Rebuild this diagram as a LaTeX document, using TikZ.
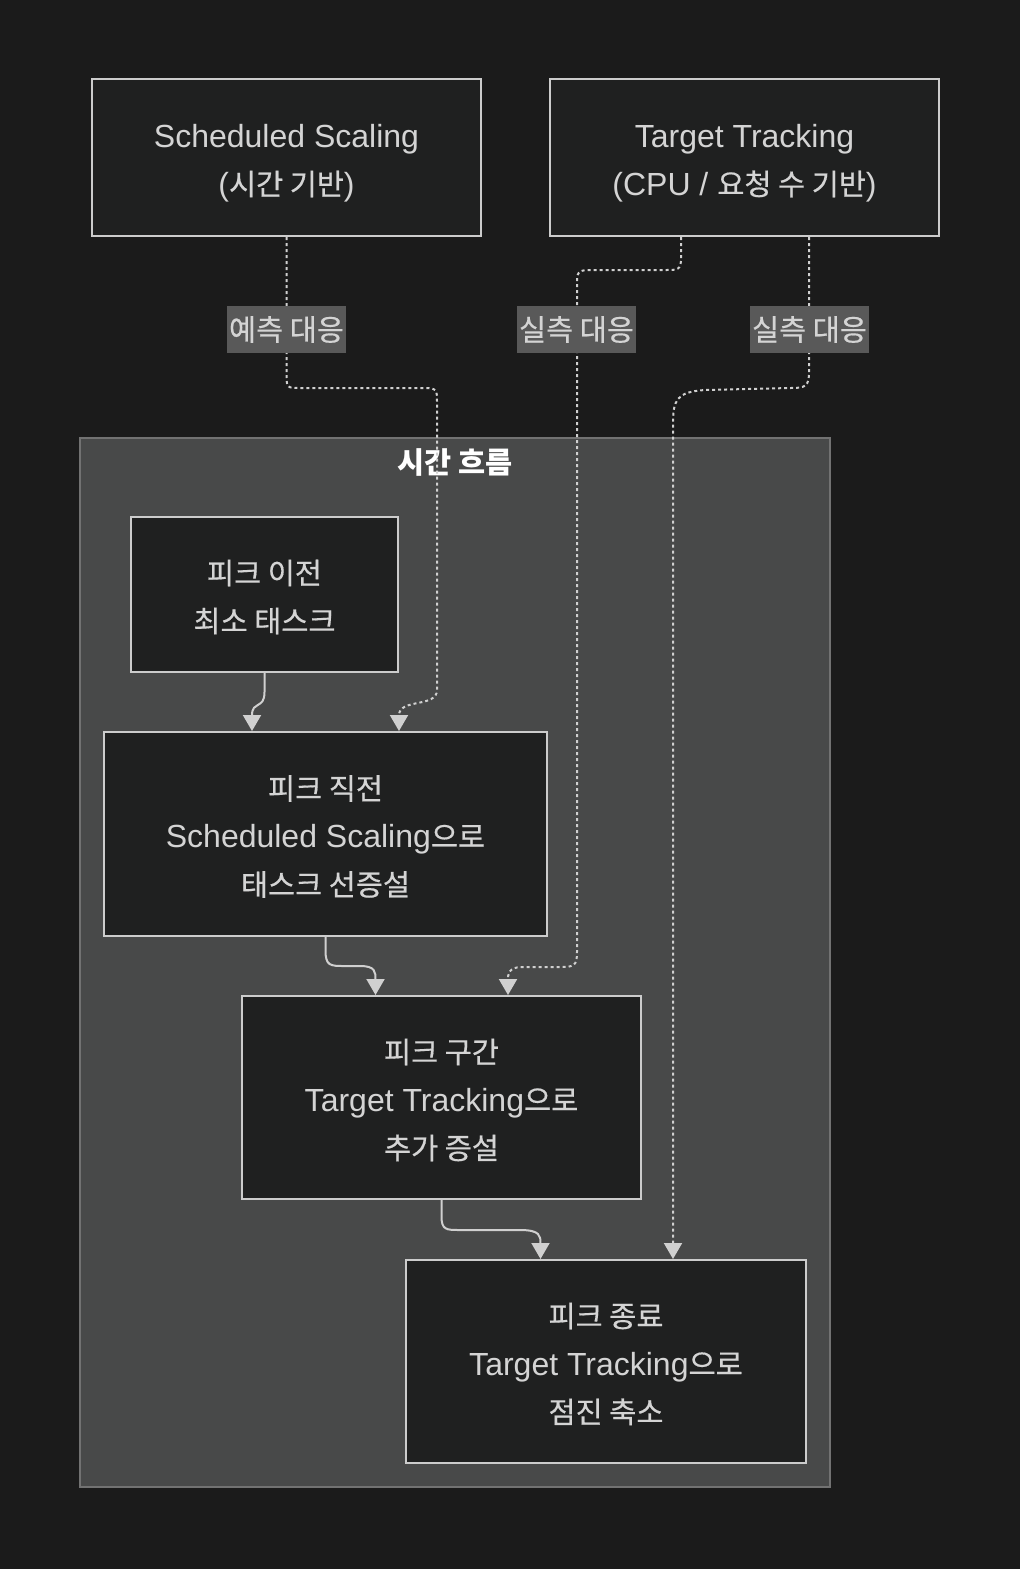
\documentclass[tikz,border=0pt]{standalone}
\usepackage{fontspec}
\setmainfont{Liberation Sans}
\newfontfamily\kr[Scale=0.92,FakeBold=0.5]{Noto Sans CJK KR}
\newfontfamily\krb[Scale=0.92]{Noto Sans CJK KR}
\usetikzlibrary{arrows.meta}
\definecolor{bgc}{HTML}{1B1B1B}
\definecolor{boxfill}{HTML}{1F2020}
\definecolor{boxline}{HTML}{CCCCCC}
\definecolor{txt}{HTML}{D4D4D4}
\definecolor{clfill}{HTML}{484949}
\definecolor{clline}{HTML}{727272}
\definecolor{lblfill}{HTML}{595959}
\definecolor{edgec}{HTML}{D0D0D0}
\newcommand\topstr{\rule{0pt}{35pt}}
\newcommand\botstr{\rule[-8pt]{0pt}{0pt}}
\begin{document}
\begin{tikzpicture}[x=1pt,y=-1pt,
  box/.style={draw=boxline, fill=boxfill, line width=2pt, align=center, text=txt,
    font=\fontsize{32}{48}\selectfont, inner sep=0pt},
  lbl/.style={fill=lblfill, text=txt, font=\fontsize{32}{48}\selectfont,
    inner xsep=0pt, inner ysep=0pt, minimum width=119pt, minimum height=47pt},
  flow/.style={draw=edgec, line width=2pt, -{Triangle[length=16pt,width=18pt]}},
  dflow/.style={flow, dash pattern=on 3pt off 3pt}]
\fill[bgc] (0,0) rectangle (1020,1569);
\useasboundingbox (0,0) rectangle (1020,1569);

% cluster
\node[draw=clline, fill=clfill, line width=1.5pt, minimum width=750pt, minimum height=1049pt, inner sep=0pt] (G) at (455,962.5) {};
\node[text=white, font=\fontsize{32}{48}\selectfont] (T) at (455,462) {\krb\bfseries 시간 흐름};

% nodes
\node[box, minimum width=389pt, minimum height=157pt] (A) at (286.5,157.5) {\topstr Scheduled Scaling\\({\kr 시간 기반})\botstr};
\node[box, minimum width=389pt, minimum height=157pt] (B) at (744.5,157.5) {\topstr Target Tracking\\(CPU / {\kr 요청 수 기반})\botstr};
\node[box, minimum width=267pt, minimum height=155pt] (C) at (264.5,594.5) {\topstr{\kr 피크 이전}\\{\kr 최소 태스크}\botstr};
\node[box, minimum width=443pt, minimum height=204pt] (D) at (325.5,834) {\topstr{\kr 피크 직전}\\Scheduled Scaling{\kr 으로}\\{\kr 태스크 선증설}\botstr};
\node[box, minimum width=399pt, minimum height=203pt] (E) at (441.5,1097.5) {\topstr{\kr 피크 구간}\\Target Tracking{\kr 으로}\\{\kr 추가 증설}\botstr};
\node[box, minimum width=400pt, minimum height=203pt] (F) at (606,1361.5) {\topstr{\kr 피크 종료}\\Target Tracking{\kr 으로}\\{\kr 점진 축소}\botstr};

% edges
\draw[dflow] (A.south) -- (286.5,376) .. controls (286.5,388) and (288,388) .. (300,388) -- (424,388) .. controls (437,388) and (437,390) .. (437,402) -- (437,690) .. controls (437,708) and (399,698) .. ([xshift=73.5pt]D.north);
\draw[flow] (C.south) -- (264.5,692) .. controls (264.5,710) and (252,700) .. ([xshift=-73.5pt]D.north);
\draw[flow] (D.south) -- (325.5,950) .. controls (325.5,966) and (330,966) .. (345,966) -- (360,966) .. controls (375.5,966) and (375.5,972) .. ([xshift=-66pt]E.north);
\draw[dflow] ([xshift=-63.5pt]B.south) -- (681,258) .. controls (681,270) and (678,270) .. (666,270) -- (590,270) .. controls (577,270) and (577,273) .. (577,285) -- (577,952) .. controls (577,966) and (574,967) .. (560,967) -- (522,967) .. controls (508,967) and (508,975) .. ([xshift=66.5pt]E.north);
\draw[flow] (E.south) -- (441.5,1216) .. controls (441.5,1230) and (446,1230) .. (460,1230) -- (520,1230) .. controls (540.5,1230) and (540.5,1236) .. ([xshift=-65.5pt]F.north);
\draw[dflow] ([xshift=64.5pt]B.south) -- (809,372) .. controls (809,387) and (805,388) .. (790,388) -- (705,390) .. controls (676,392) and (673,400) .. (673,425) -- ([xshift=67pt]F.north);

% labels
\node[lbl] (L1) at (286.5,329.5) {\kr 예측 대응};
\node[lbl] (L2) at (576.5,329.5) {\kr 실측 대응};
\node[lbl] (L3) at (809.5,329.5) {\kr 실측 대응};
\end{tikzpicture}
\end{document}
